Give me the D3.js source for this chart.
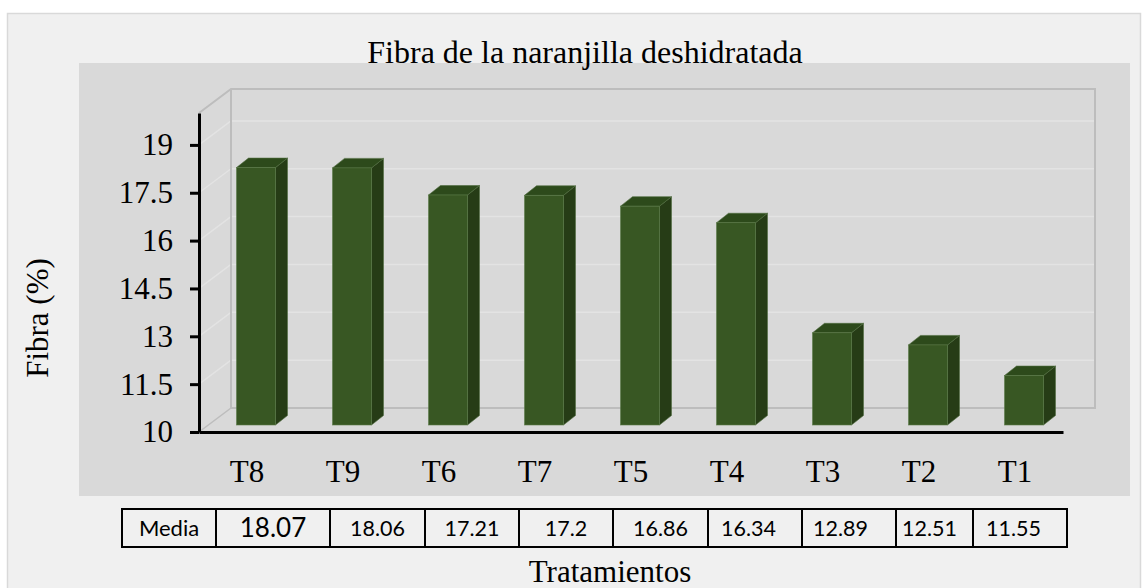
<!DOCTYPE html>
<html>
<head>
<meta charset="utf-8">
<script src="https://cdn.jsdelivr.net/npm/d3@7"></script>
<style>
  body { margin: 0; background: #fff; }
  text { font-family: "Liberation Serif", "Times New Roman", serif; }
</style>
</head>
<body>
<div id="chart"></div>
<script>
(function() {

  // data
  let categories = ["T8", "T9", "T6", "T7", "T5", "T4", "T3", "T2", "T1"];
  let fibra      = [18.07, 18.06, 17.21, 17.2, 16.86, 16.34, 12.89, 12.51, 11.55];
  let mediaText  = ["18.07", "18.06", "17.21", "17.2", "16.86", "16.34", "12.89", "12.51", "11.55"];
  let yTicks     = [10, 11.5, 13, 14.5, 16, 17.5, 19];

  let width  = 1147,
      height = 588;

  // 3d depth of the floor and of each bar
  let depthX = 32, depthY = -24;
  let barOffX = 9, barOffY = -7;
  let barDX = 12, barDY = -9.5;

  let svg = d3.select("#chart")
    .append("svg")
    .attr("width", width)
    .attr("height", height);

  // outer frame
  svg.append("rect")
    .attr("x", 7.5).attr("y", 13.5)
    .attr("width", 1133).attr("height", 600)
    .attr("fill", "#f0f0f0")
    .attr("stroke", "#d9d9d9")
    .attr("stroke-width", 1.5);

  // plot area
  svg.append("rect")
    .attr("x", 79).attr("y", 63)
    .attr("width", 1051).attr("height", 433)
    .attr("fill", "#d9d9d9");

  // scales
  let x = d3.scaleBand()
    .domain(categories)
    .range([199, 1063])
    .paddingInner(0.594)
    .paddingOuter(0.297);

  let y = d3.scaleLinear()
    .domain([10, 20])
    .range([432, 113]);

  let x0 = 199, x1 = 1063;
  let yTop = y(20), yBot = y(10);

  // gridlines on side wall + back wall
  let grid = svg.append("g");
  yTicks.slice(1).forEach((v) => {
    grid.append("line")
      .attr("x1", x0).attr("y1", y(v))
      .attr("x2", x0 + depthX).attr("y2", y(v) + depthY)
      .attr("stroke", "#e3e3e3").attr("stroke-width", 1.5);
    grid.append("line")
      .attr("x1", x0 + depthX).attr("y1", y(v) + depthY)
      .attr("x2", x1 + depthX).attr("y2", y(v) + depthY)
      .attr("stroke", "#e3e3e3").attr("stroke-width", 1.5);
  });

  // wall edges
  let edge = "#bdbdbd";
  let bx0 = x0 + depthX, bx1 = x1 + depthX;
  let by0 = yTop + depthY, by1 = yBot + depthY;
  svg.append("path")
    .attr("d", `M${x0},${yTop}L${bx0},${by0}L${bx1},${by0}L${bx1},${by1}L${bx0},${by1}L${bx0},${by0}`)
    .attr("fill", "none")
    .attr("stroke", edge)
    .attr("stroke-width", 2);
  svg.append("line")
    .attr("x1", x0).attr("y1", yBot)
    .attr("x2", bx0).attr("y2", by1)
    .attr("stroke", edge).attr("stroke-width", 1.5);

  // bars
  let bw = x.bandwidth();
  let bars = svg.selectAll(".bar")
    .data(categories.map((c, i) => ({ cat: c, val: fibra[i] })))
    .enter().append("g")
    .attr("class", "bar");

  let fx = (d) => x(d.cat) + barOffX;
  let fy = (d) => y(d.val) + barOffY;
  let fb = y(10) + barOffY;

  // side face
  bars.append("path")
    .attr("d", (d) => `M${fx(d) + bw},${fy(d)}L${fx(d) + bw + barDX},${fy(d) + barDY}L${fx(d) + bw + barDX},${fb + barDY}L${fx(d) + bw},${fb}Z`)
    .attr("fill", "#263c16")
    .attr("stroke", "#4f6b3e").attr("stroke-width", 0.6);

  // top face
  bars.append("path")
    .attr("d", (d) => `M${fx(d)},${fy(d)}L${fx(d) + barDX},${fy(d) + barDY}L${fx(d) + bw + barDX},${fy(d) + barDY}L${fx(d) + bw},${fy(d)}Z`)
    .attr("fill", "#2d4a1b")
    .attr("stroke", "#4f6b3e").attr("stroke-width", 0.6);

  // front face
  bars.append("rect")
    .attr("x", fx)
    .attr("y", fy)
    .attr("width", bw)
    .attr("height", (d) => fb - fy(d))
    .attr("fill", "#385723")
    .attr("stroke", "#5b7a48").attr("stroke-width", 0.6);

  // y axis
  let yAxis = svg.append("g")
    .attr("transform", `translate(${x0},0)`)
    .call(d3.axisLeft(y).tickValues(yTicks).tickSize(9).tickSizeOuter(0).tickPadding(17)
      .tickFormat(d3.format("")));
  yAxis.select(".domain").attr("stroke", "#000").attr("stroke-width", 3);
  yAxis.selectAll(".tick line").attr("stroke", "#000").attr("stroke-width", 3);
  yAxis.selectAll(".tick text")
    .attr("font-family", "Liberation Serif")
    .attr("font-size", 31)
    .attr("fill", "#000");

  // x axis
  let xAxis = svg.append("g")
    .attr("transform", `translate(0,${yBot})`)
    .call(d3.axisBottom(x).tickSize(0).tickPadding(50));
  xAxis.select(".domain").attr("stroke", "#000").attr("stroke-width", 3);
  xAxis.selectAll(".tick text")
    .attr("font-family", "Liberation Serif")
    .attr("font-size", 31)
    .attr("fill", "#000")
    .attr("dy", "0");

  // title
  svg.append("text")
    .attr("x", 585).attr("y", 63)
    .attr("text-anchor", "middle")
    .attr("font-size", 32)
    .text("Fibra de la naranjilla deshidratada");

  // y label
  svg.append("text")
    .attr("transform", "translate(48,318) rotate(-90)")
    .attr("text-anchor", "middle")
    .attr("font-size", 31)
    .text("Fibra (%)");

  // x label
  svg.append("text")
    .attr("x", 610).attr("y", 582)
    .attr("text-anchor", "middle")
    .attr("font-size", 31)
    .text("Tratamientos");

  // data table
  let colW  = [94, 114, 95, 94, 94, 95, 94, 94, 77, 94];
  let pad   = [null, null, null, null, null, null, 13, 11, 6, 13];
  let cells = ["Media"].concat(mediaText);
  let tx = 122, tTop = 509, tH = 38;
  let table = svg.append("g");
  cells.forEach((t, i) => {
    table.append("rect")
      .attr("x", tx).attr("y", tTop)
      .attr("width", colW[i]).attr("height", tH)
      .attr("fill", "none")
      .attr("stroke", "#000").attr("stroke-width", 2);
    table.append("text")
      .attr("x", pad[i] !== null ? tx + pad[i] : tx + colW[i] / 2)
      .attr("y", tTop + tH / 2)
      .attr("dy", "0.35em")
      .attr("text-anchor", pad[i] !== null ? "start" : "middle")
      .style("font-family", "Lato, 'Open Sans', sans-serif")
      .attr("font-size", i === 1 ? 26 : (i === 0 ? 22 : 21.5))
      .text(t);
    tx += colW[i];
  });

})();
</script>
</body>
</html>
